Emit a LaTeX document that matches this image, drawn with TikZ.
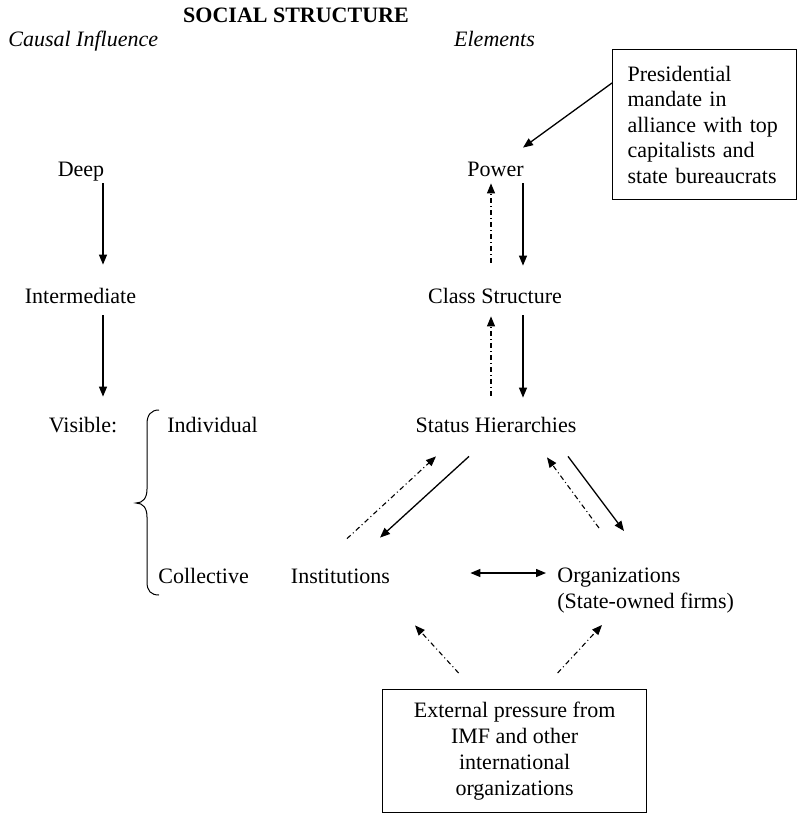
\documentclass[tikz,border=0pt]{standalone}
\usepackage{fontspec}
\setmainfont{Liberation Serif}
\usetikzlibrary{arrows.meta}
\begin{document}
\begin{tikzpicture}[x=0.5pt,y=-0.5pt,
  every node/.style={font=\fontsize{11pt}{12.75pt}\selectfont},
  lbl/.style={inner sep=0pt,text height=7.5pt,text depth=2.5pt,anchor=base},
  box/.style={draw,line width=0.6pt,inner sep=0pt},
  tip/.style={-{Triangle[length=5pt,width=4pt]}},
  solidarrow/.style={line width=0.65pt,tip},
  dasharrow/.style={line width=0.55pt,dash pattern=on 2.5pt off 1.5pt on 0.5pt off 1.5pt,tip},
  bothways/.style={line width=0.65pt,{Triangle[length=5pt,width=4pt]}-{Triangle[length=5pt,width=4pt]}},
]
\useasboundingbox (0,0) rectangle (797,815);

% headings
\node[lbl,font=\fontsize{11pt}{12.75pt}\selectfont\bfseries] (title) at (296,22) {SOCIAL STRUCTURE};
\node[lbl,anchor=base west,font=\fontsize{11pt}{12.75pt}\selectfont\itshape] (causal) at (8,46) {Causal Influence};
\node[lbl,font=\fontsize{11pt}{12.75pt}\selectfont\itshape] (elem) at (494.5,46) {Elements};

% causal levels
\node[lbl] (deep) at (81,176) {Deep};
\node[lbl] (inter) at (80.5,303) {Intermediate};
\node[lbl] (vis) at (83,432) {Visible:};
\node[lbl,anchor=base west] (indiv) at (167,432) {Individual};
\node[lbl,anchor=base west] (coll) at (158,583) {Collective};

% elements
\node[lbl] (pow) at (495.5,176) {Power};
\node[lbl] (cls) at (495,303) {Class Structure};
\node[lbl] (sta) at (496,432) {Status Hierarchies};
\node[lbl] (inst) at (340.5,583) {Institutions};
\node[inner sep=0pt,anchor=north west,align=left] (orgs) at (557,568) {Organizations\\(State-owned firms)};

% boxes
\node[box,anchor=north west,text width=77pt,inner xsep=7.5pt,minimum height=75pt,align=left] (pres) at (612,49)
  {Presidential\\mandate in\\alliance with top\\capitalists and\\state bureaucrats};
\node[box,anchor=north west,minimum width=132pt,minimum height=61.5pt,align=center,
      font=\fontsize{11pt}{13pt}\selectfont] (ext) at (382,689)
  {External pressure from\\IMF and other\\international\\organizations};

% brace grouping individual and collective
\draw[line width=0.5pt] (159,410) .. controls (151,410) and (147,415) .. (147,424)
  -- (147,489) .. controls (147,498) and (143,503) .. (136,503)
  .. controls (143,503) and (147,508) .. (147,517)
  -- (147,582) .. controls (147,591) and (151,595) .. (159,595);

% causal chain
\draw[solidarrow] ([shift={(22,2)}]deep.south) -- ([shift={(22.5,-23)}]inter.north);
\draw[solidarrow] ([shift={(22.5,7)}]inter.south) -- ([shift={(20,-20)}]vis.north);

% power / class / status
\draw[solidarrow] ([shift={(27.5,2)}]pow.south) -- ([shift={(28,-22)}]cls.north);
\draw[dasharrow] ([shift={(-4,-25)}]cls.north) -- ([shift={(-4.5,2)}]pow.south);
\draw[solidarrow] ([shift={(28,7)}]cls.south) -- ([shift={(27,-19)}]sta.north);
\draw[dasharrow] ([shift={(-5,-21)}]sta.north) -- ([shift={(-4,8)}]cls.south);

% status to institutions and organizations
\draw[solidarrow] ([shift={(-27,19)}]sta.south) -- ([shift={(39.5,-30)}]inst.north);
\draw[dasharrow] ([shift={(6.5,-29)}]inst.north) -- ([shift={(-60,19)}]sta.south);
\draw[solidarrow] ([shift={(72,19)}]sta.south) -- ([shift={(67,-37)}]orgs.north west);
\draw[dasharrow] ([shift={(42,-40)}]orgs.north west) -- ([shift={(51,20)}]sta.south);
\draw[bothways] ([shift={(80,-5)}]inst.east) -- ([shift={(-11,5)}]orgs.north west);

% external influences
\draw[solidarrow] ([shift={(0,34)}]pres.north west) -- ([shift={(27.5,-13)}]pow.north);
\draw[dasharrow] ([shift={(-56,-16)}]ext.north) -- ([shift={(74.5,37)}]inst.south);
\draw[dasharrow] ([shift={(43,-16)}]ext.north) -- ([shift={(45,57)}]orgs.north west);
\end{tikzpicture}
\end{document}
